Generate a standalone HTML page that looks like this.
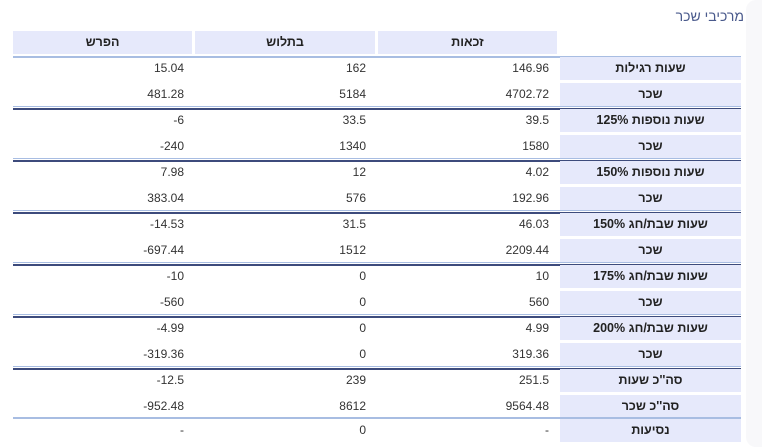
<!DOCTYPE html><html><head><meta charset="utf-8"><style>
body{margin:0;width:762px;height:447px;background:#fff;position:relative;overflow:hidden;font-family:"Liberation Sans","DejaVu Sans",sans-serif}
.side{position:absolute;left:746px;top:0;width:30px;height:447px;background:#f8f8fa;border-radius:10px}
.title{position:absolute;right:18px;top:8px;color:#4a5a8c;font-size:14px}
.h{position:absolute;top:31px;height:23px;background:#e6e9fb;font-weight:bold;font-size:12.5px;color:#222;text-align:center;line-height:23px}
.row{position:absolute;left:0;width:762px;height:26px}
.lab{position:absolute;left:560px;top:-1px;width:181px;height:23px;background:#e6e9fb;font-weight:bold;font-size:12.5px;color:#222;text-align:center;line-height:23px}
.v{position:absolute;top:-3px;width:171px;height:26px;line-height:26px;font-size:12px;color:#333;text-align:right}
.a{left:378px}.b{left:195px}.c{left:13px}
.l{position:absolute;left:13px;width:728px;height:1px;background:#a8bde2}
.d{position:absolute;left:13px;width:728px;height:2px;background:#3d4b7c}
</style></head><body>
<div class="side"></div>
<div class="title">מרכיבי שכר</div>
<div class="h" style="left:13px;width:179px">הפרש</div>
<div class="h" style="left:195px;width:180px">בתלוש</div>
<div class="h" style="left:378px;width:179px">זכאות</div>
<div class="l" style="top:56px;height:2px"></div>

<div class="row" style="top:58px"><div class="lab">שעות רגילות</div><div class="v a">146.96</div><div class="v b">162</div><div class="v c">15.04</div></div>
<div class="row" style="top:84px"><div class="lab">שכר</div><div class="v a">4702.72</div><div class="v b">5184</div><div class="v c">481.28</div></div>
<div class="l" style="top:106px"></div><div class="d" style="top:108px"></div>
<div class="row" style="top:110px"><div class="lab">שעות נוספות 125%</div><div class="v a">39.5</div><div class="v b">33.5</div><div class="v c">-6</div></div>
<div class="row" style="top:136px"><div class="lab">שכר</div><div class="v a">1580</div><div class="v b">1340</div><div class="v c">-240</div></div>
<div class="l" style="top:158px"></div><div class="d" style="top:160px"></div>
<div class="row" style="top:162px"><div class="lab">שעות נוספות 150%</div><div class="v a">4.02</div><div class="v b">12</div><div class="v c">7.98</div></div>
<div class="row" style="top:188px"><div class="lab">שכר</div><div class="v a">192.96</div><div class="v b">576</div><div class="v c">383.04</div></div>
<div class="l" style="top:210px"></div><div class="d" style="top:212px"></div>
<div class="row" style="top:214px"><div class="lab">שעות שבת/חג 150%</div><div class="v a">46.03</div><div class="v b">31.5</div><div class="v c">-14.53</div></div>
<div class="row" style="top:240px"><div class="lab">שכר</div><div class="v a">2209.44</div><div class="v b">1512</div><div class="v c">-697.44</div></div>
<div class="l" style="top:262px"></div><div class="d" style="top:264px"></div>
<div class="row" style="top:266px"><div class="lab">שעות שבת/חג 175%</div><div class="v a">10</div><div class="v b">0</div><div class="v c">-10</div></div>
<div class="row" style="top:292px"><div class="lab">שכר</div><div class="v a">560</div><div class="v b">0</div><div class="v c">-560</div></div>
<div class="l" style="top:314px"></div><div class="d" style="top:316px"></div>
<div class="row" style="top:318px"><div class="lab">שעות שבת/חג 200%</div><div class="v a">4.99</div><div class="v b">0</div><div class="v c">-4.99</div></div>
<div class="row" style="top:344px"><div class="lab">שכר</div><div class="v a">319.36</div><div class="v b">0</div><div class="v c">-319.36</div></div>
<div class="l" style="top:366px"></div><div class="d" style="top:368px"></div>
<div class="row" style="top:370px"><div class="lab">סה''כ שעות</div><div class="v a">251.5</div><div class="v b">239</div><div class="v c">-12.5</div></div>
<div class="row" style="top:396px"><div class="lab">סה''כ שכר</div><div class="v a">9564.48</div><div class="v b">8612</div><div class="v c">-952.48</div></div>
<div class="l" style="top:417px;height:2px"></div>
<div class="row" style="top:420px"><div class="lab">נסיעות</div><div class="v a">-</div><div class="v b">0</div><div class="v c">-</div></div>
</body></html>
